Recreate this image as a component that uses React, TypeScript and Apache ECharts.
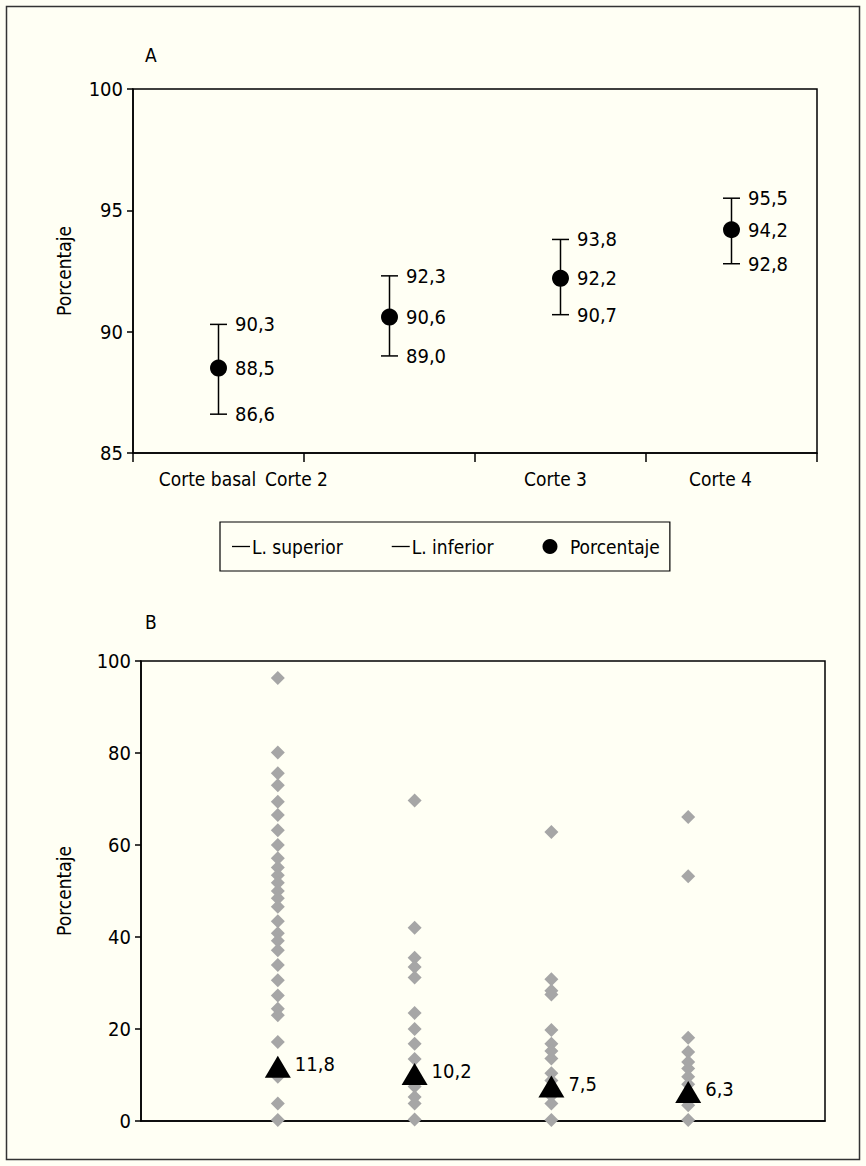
import React, { useEffect, useRef } from 'react';
import * as echarts from 'echarts';

// ---- Panel A data ----
const categoriesA = ['Corte basal', 'Corte 2', 'Corte 3', 'Corte 4'];
const upperA = [90.3, 92.3, 93.8, 95.5];
const lowerA = [86.6, 89.0, 90.7, 92.8];
const pctA = [88.5, 90.6, 92.2, 94.2];

// ---- Panel B data ----
const positionsB = [1, 2, 3, 4];
const colBasal = [96.3, 80.1, 75.6, 73.0, 69.4, 66.5, 63.2, 60.0, 57.1, 55.1, 53.4, 51.8, 50.0, 48.4, 46.6, 43.4, 40.8, 39.2, 37.1, 33.9, 30.6, 27.3, 24.4, 23.0, 17.2, 9.6, 3.8, 0.2];
const colCorte2 = [69.7, 42.0, 35.5, 33.5, 31.2, 23.5, 20.0, 16.8, 13.5, 9.5, 7.5, 5.2, 3.8, 0.3];
const colCorte3 = [62.8, 30.8, 28.3, 27.5, 19.8, 16.8, 15.2, 13.6, 10.4, 8.8, 5.5, 3.8, 0.2];
const colCorte4 = [66.1, 53.2, 18.1, 15.0, 12.8, 11.4, 9.6, 8.0, 4.5, 3.4, 0.2];
const medianB = [11.8, 10.2, 7.5, 6.3];

const FONT = "'Liberation Sans Narrow', 'DejaVu Sans Condensed', 'Liberation Sans', sans-serif";
const INK = '#000000';
const BG = '#fffff4';

const fmt = (v: number) => v.toFixed(1).replace('.', ',');

export default function App() {
  const ref = useRef<HTMLDivElement>(null);

  useEffect(() => {
    if (!ref.current) return;
    const chart = echarts.init(ref.current, undefined, { renderer: 'svg' });

    const columnsB = [colBasal, colCorte2, colCorte3, colCorte4];
    const diamonds: number[][] = [];
    columnsB.forEach((col, i) => col.forEach((v) => diamonds.push([positionsB[i], v])));

    const labelStyle = {
      show: true,
      position: 'right' as const,
      color: INK,
      fontFamily: FONT,
      fontSize: 20,
    };

    const option: any = {
      animation: false,
      backgroundColor: BG,
      textStyle: { fontFamily: FONT, color: INK },
      graphic: [
        {
          type: 'rect',
          shape: { x: 6.5, y: 6.5, width: 853, height: 1153 },
          style: { fill: 'none', stroke: '#333', lineWidth: 1.5 },
          silent: true,
        },
        { type: 'text', left: 145, top: 45, style: { text: 'A', font: `19px ${FONT}`, fill: INK } },
        { type: 'text', left: 145, top: 612, style: { text: 'B', font: `19px ${FONT}`, fill: INK } },
      ],
      legend: {
        data: [
          { name: 'L. superior', icon: 'path://M0,0H18V1.3H0Z' },
          { name: 'L. inferior', icon: 'path://M0,0H18V1.3H0Z' },
          { name: 'Porcentaje', icon: 'circle', textStyle: { padding: [0, 0, 0, 6] } },
        ],
        left: 220,
        top: 522,
        itemWidth: 18,
        itemHeight: 15,
        itemGap: 49,
        padding: [15, 10, 15, 12],
        borderColor: '#000',
        borderWidth: 1.2,
        backgroundColor: BG,
        textStyle: { fontFamily: FONT, fontSize: 19, color: INK, padding: [0, 0, 0, -3] },
        selectedMode: false,
      },
      grid: [
        { left: 133, top: 89, width: 684, height: 364, show: true, borderColor: '#000', borderWidth: 1.5, backgroundColor: 'transparent' },
        { left: 141, top: 661, width: 684, height: 460, show: true, borderColor: '#000', borderWidth: 1.5, backgroundColor: 'transparent' },
      ],
      xAxis: [
        {
          gridIndex: 0,
          type: 'category',
          data: categoriesA,
          boundaryGap: true,
          axisLine: { lineStyle: { color: '#000', width: 1.5 } },
          axisTick: { show: true, length: 9, lineStyle: { color: '#000', width: 1.5 } },
          axisLabel: {
            interval: 0,
            hideOverlap: false,
            margin: 16,
            formatter: (v: string, i: number) => `{c${i}|${v}}`,
            rich: {
              c0: { fontFamily: FONT, fontSize: 19, color: INK, padding: [0, 22, 0, 0] },
              c1: { fontFamily: FONT, fontSize: 19, color: INK, padding: [0, 186, 0, 0] },
              c2: { fontFamily: FONT, fontSize: 19, color: INK, padding: [0, 10, 0, 0] },
              c3: { fontFamily: FONT, fontSize: 19, color: INK, padding: [0, 22, 0, 0] },
            },
          },
          splitLine: { show: false },
        },
        {
          gridIndex: 1,
          type: 'value',
          min: 0,
          max: 5,
          axisLine: { show: true, onZero: false, lineStyle: { color: '#000', width: 1.5 } },
          axisTick: { show: false },
          axisLabel: { show: false },
          splitLine: { show: false },
        },
      ],
      yAxis: [
        {
          gridIndex: 0,
          type: 'value',
          min: 85,
          max: 100,
          interval: 5,
          name: 'Porcentaje',
          nameLocation: 'middle',
          nameRotate: 90,
          nameGap: 60,
          nameTextStyle: { fontFamily: FONT, fontSize: 19, color: INK },
          axisLine: { show: true, lineStyle: { color: '#000', width: 1.5 } },
          axisTick: { show: true, length: 6, lineStyle: { color: '#000', width: 1.5 } },
          axisLabel: { fontFamily: FONT, fontSize: 20, color: INK, margin: 10 },
          splitLine: { show: false },
        },
        {
          gridIndex: 1,
          type: 'value',
          min: 0,
          max: 100,
          interval: 20,
          name: 'Porcentaje',
          nameLocation: 'middle',
          nameRotate: 90,
          nameGap: 68,
          nameTextStyle: { fontFamily: FONT, fontSize: 19, color: INK },
          axisLine: { show: true, lineStyle: { color: '#000', width: 1.5 } },
          axisTick: { show: true, length: 6, lineStyle: { color: '#000', width: 1.5 } },
          axisLabel: { fontFamily: FONT, fontSize: 20, color: INK, margin: 10 },
          splitLine: { show: false },
        },
      ],
      series: [
        {
          name: 'Intervalo',
          type: 'custom',
          xAxisIndex: 0,
          yAxisIndex: 0,
          silent: true,
          data: categoriesA.map((_, i) => [i, lowerA[i], upperA[i]]),
          encode: { x: 0, y: [1, 2] },
          renderItem: (params: any, api: any) => {
            const x = api.value(0);
            const lo = api.coord([x, api.value(1)]);
            const hi = api.coord([x, api.value(2)]);
            return {
              type: 'line',
              shape: { x1: lo[0], y1: lo[1], x2: hi[0], y2: hi[1] },
              style: { stroke: '#000', lineWidth: 1.5 },
            };
          },
        },
        {
          name: 'L. superior',
          type: 'scatter',
          xAxisIndex: 0,
          yAxisIndex: 0,
          symbol: 'rect',
          symbolSize: [17, 1.5],
          itemStyle: { color: '#000', opacity: 1 },
          data: upperA.map((v, i) => [i, v]),
          label: { ...labelStyle, distance: 8, formatter: (p: any) => fmt(p.value[1]) },
        },
        {
          name: 'L. inferior',
          type: 'scatter',
          xAxisIndex: 0,
          yAxisIndex: 0,
          symbol: 'rect',
          symbolSize: [17, 1.5],
          itemStyle: { color: '#000', opacity: 1 },
          data: lowerA.map((v, i) => [i, v]),
          label: { ...labelStyle, distance: 8, formatter: (p: any) => fmt(p.value[1]) },
        },
        {
          name: 'Porcentaje',
          type: 'scatter',
          xAxisIndex: 0,
          yAxisIndex: 0,
          symbol: 'circle',
          symbolSize: 17,
          itemStyle: { color: '#000', opacity: 1 },
          data: pctA.map((v, i) => [i, v]),
          label: { ...labelStyle, distance: 8, formatter: (p: any) => fmt(p.value[1]) },
          z: 3,
        },
        {
          name: 'Individual',
          type: 'scatter',
          xAxisIndex: 1,
          yAxisIndex: 1,
          symbol: 'diamond',
          symbolSize: 14,
          itemStyle: { color: '#a6a6a6', opacity: 1 },
          data: diamonds,
        },
        {
          name: 'Media',
          type: 'scatter',
          xAxisIndex: 1,
          yAxisIndex: 1,
          symbol: 'triangle',
          symbolSize: [26, 22],
          itemStyle: { color: '#000', opacity: 1 },
          data: medianB.map((v, i) => [positionsB[i], v]),
          label: { ...labelStyle, distance: 4, offset: [0, -3], formatter: (p: any) => fmt(p.value[1]) },
          z: 3,
        },
      ],
    };

    chart.setOption(option);
    return () => chart.dispose();
  }, []);

  return (
    <div
      ref={ref}
      style={{ position: 'fixed', left: 0, top: 0, width: 866, height: 1166, background: BG }}
    />
  );
}
